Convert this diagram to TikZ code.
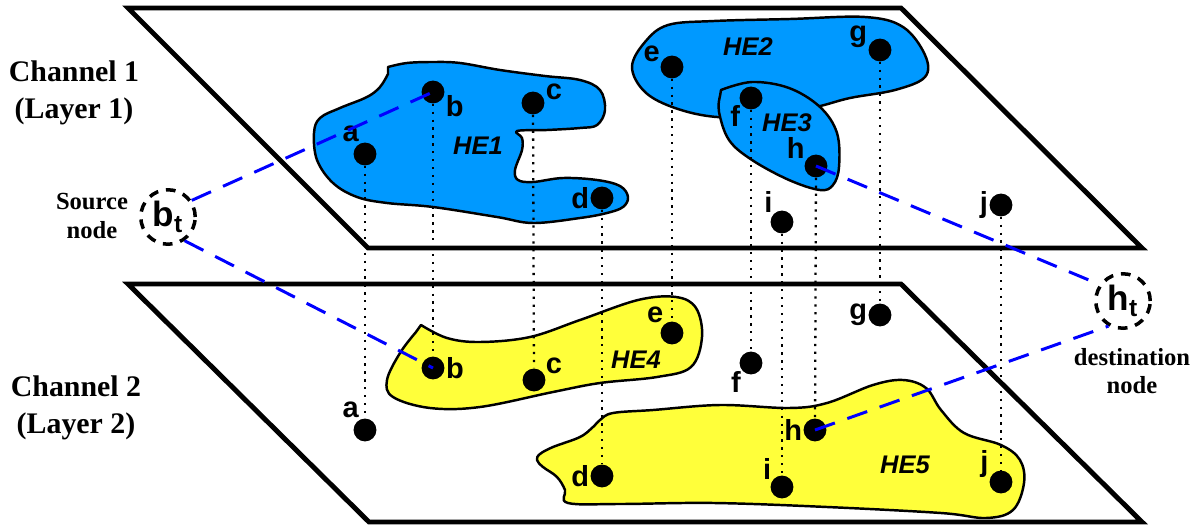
\documentclass[tikz,border=0pt]{standalone}
\usepackage{fontspec}
\setmainfont{Liberation Serif}
\setsansfont{Liberation Sans}
\usepackage{tikz}
\definecolor{heblue}{HTML}{0099FF}
\definecolor{heyellow}{HTML}{FFFF3A}
\definecolor{linkblue}{HTML}{0000FF}
\tikzset{
  plane/.style={draw=black, line width=2.8pt, line join=miter},
  edgeblue/.style={draw=black, fill=heblue, line width=1.4pt, line join=round},
  edgeyellow/.style={draw=black, fill=heyellow, line width=1.4pt, line join=round},
  vert/.style={draw=black, line width=1.3pt, dash pattern=on 1.3pt off 3.2pt},
  link/.style={draw=linkblue, line width=1.7pt, dash pattern=on 12pt off 7.5pt},
  dot/.style={circle, fill=black, inner sep=0pt, minimum size=13pt},
  lab/.style={font=\sffamily\bfseries\fontsize{16.5}{16.5}\selectfont, inner sep=0.5pt},
  he/.style={font=\sffamily\bfseries\itshape\fontsize{14.5}{14.5}\selectfont},
  term/.style={circle, draw=black, line width=2pt, dash pattern=on 5.5pt off 4.5pt,
    minimum size=31pt, inner sep=0pt, font=\sffamily\bfseries\fontsize{20}{20}\selectfont},
  chan/.style={align=center, font=\bfseries\fontsize{17}{21}\selectfont},
  side/.style={align=center, font=\bfseries\fontsize{14}{16}\selectfont},
}

\begin{document}
\begin{tikzpicture}[x=0.02cm, y=-0.02cm]
  \useasboundingbox (0,0) rectangle (1193,527);
  % the two channel layers
  \draw[plane] (128,8) -- (901,8) -- (1142,248) -- (368,248) -- cycle;
  \draw[plane] (128,284) -- (901,284) -- (1142,522) -- (369,522) -- cycle;

  % hyperedges, layer 1
  \path[edgeblue] plot[smooth, tension=0.6] coordinates {(388,67) (407,63) (433,62) (460,63)
    (500,70) (545,76) (580,80) (600,90) (605,110) (597,125) (580,128) (547,130) (517,131)
    (522,138) (522,150) (515,170) (518,180) (533,182) (563,178) (597,180) (620,186) (628,197)
    (623,207) (607,213) (580,218) (533,223) (497,217) (433,207) (387,203) (357,197) (333,183)
    (317,160) (314,133) (320,118) (340,108) (367,97) (380,87) (388,74)} -- cycle;
  \path[edgeblue] plot[smooth cycle, tension=0.6] coordinates {(632,67) (645,42) (668,25)
    (714,21) (790,19) (865,17) (903,27) (925,55) (925,77) (895,90) (850,98) (816,107)
    (770,115) (717,117) (675,108) (645,92)};
  \path[edgeblue] plot[smooth, tension=0.6] coordinates {(721,90) (752,82) (789,88) (820,107)
    (837,133) (839,167) (833,185) (820,190) (789,180) (752,160) (729,140) (719,112) (720,96)} -- cycle;
  % hyperedges, layer 2
  \path[edgeyellow] plot[smooth, tension=0.6] coordinates {(421,325) (447,338) (480,342)
    (530,337) (580,320) (638,300) (676,297) (696,308) (702,337) (691,367) (657,377) (600,383)
    (553,392) (480,407) (430,408) (393,397) (387,380) (400,353) (416,332)} -- cycle;
  \path[edgeyellow] plot[smooth cycle, tension=0.6] coordinates {(600,420) (613,413) (653,410)
    (720,405) (789,408) (827,403) (873,385) (903,380) (926,388) (941,410) (964,433) (1001,445)
    (1020,460) (1024,483) (1013,510) (986,518) (941,513) (827,507) (714,503) (620,504)
    (568,503) (565,490) (557,477) (543,467) (537,460) (540,454) (553,447) (580,437) (593,427)};

  \node[he] (he1) at (478,146) {HE1};
  \node[he] (he2) at (748,47) {HE2};
  \node[he] (he3) at (787,123) {HE3};
  \node[he] (he4) at (636,360) {HE4};
  \node[he] (he5) at (905,465) {HE5};

  % vertices in channel 1
  \node[dot, label={[lab]115:a}] (a1) at (365,154) {};
  \node[dot, label={[lab]-10:b}] (b1) at (433,92) {};
  \node[dot, label={[lab]10:c}] (c1) at (533,103) {};
  \node[dot, label={[lab]180:d}] (d1) at (602,198) {};
  \node[dot, label={[lab]160:e}] (e1) at (672,67) {};
  \node[dot, label={[lab]215:f}] (f1) at (751,98) {};
  \node[dot, label={[lab]175:g}] (g1) at (880,50) {};
  \node[dot, label={[lab]150:h}] (h1) at (816,166) {};
  \node[dot, label={[lab]135:i}] (i1) at (782,222) {};
  \node[dot, label={[lab]180:j}] (j1) at (1001,205) {};
  % vertices in channel 2
  \node[dot, label={[lab]115:a}] (a2) at (365,430) {};
  \node[dot, label={[lab]0:b}] (b2) at (433,368) {};
  \node[dot, label={[lab]25:c}] (c2) at (534,380) {};
  \node[dot, label={[lab]180:d}] (d2) at (602,476) {};
  \node[dot, label={[lab]130:e}] (e2) at (672,333) {};
  \node[dot, label={[lab]220:f}] (f2) at (751,363) {};
  \node[dot, label={[lab]180:g}] (g2) at (880,315) {};
  \node[dot, label={[lab]180:h}] (h2) at (815,430) {};
  \node[dot, label={[lab]145:i}] (i2) at (782,487) {};
  \node[dot, label={[lab]165:j}] (j2) at (1001,482) {};

  % same vertex across the layers
  \foreach \n in {a,...,j}
    \draw[vert] (\n1) -- (\n2);

  % source and destination
  \node[term] (bt) at (168,217) {b\textsubscript{t}};
  \node[term] (ht) at (1123,301) {h\textsubscript{t}};
  \draw[link] (bt.35) -- (b1.center);
  \draw[link] (bt.-55) -- (b2.center);
  \draw[link] (h1.center) -- (ht.145);
  \draw[link] (h2.center) -- (ht.240);

  \node[side] (src) at (92,216) {Source\\node};
  \node[side] (dst) at (1132,371) {destination\\node};
  \node[chan] (ch1) at (74,93) {Channel 1\\(Layer 1)};
  \node[chan] (ch2) at (76,408) {Channel 2\\(Layer 2)};
\end{tikzpicture}
\end{document}
